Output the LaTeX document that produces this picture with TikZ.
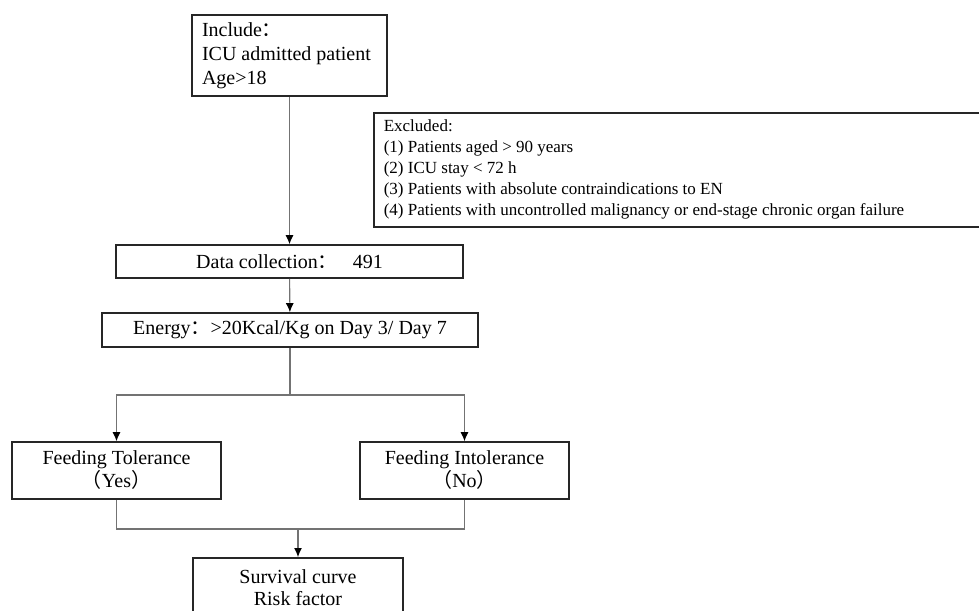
\documentclass[tikz,border=0pt]{standalone}
\usepackage{fontspec}
\setmainfont{Liberation Serif}
\newfontfamily\cjk{Noto Sans CJK SC}
\usepackage{tikz}
\usetikzlibrary{calc, arrows.meta}

\begin{document}
\begin{tikzpicture}[x=1pt, y=-1pt,
        box/.style={draw=black!85, line width=1.6pt, inner sep=0pt, align=center, font=\fontsize{20}{23}\selectfont},
        link/.style={draw=black!55, line width=1.1pt},
        arr/.style={link, -{Latex[length=9pt, width=8pt, color=black]}}]
        \useasboundingbox (0,0) rectangle (979,610);
        \node[box, minimum width=195pt, minimum height=81pt, text width=175pt, align=flush left,
            font=\fontsize{20}{24}\selectfont] (incl) at (289.5,55.5) {Include{\cjk ：}\\ICU admitted patient\\Age>18};
        \node[box, anchor=north west, minimum width=620pt, minimum height=114pt, text width=600pt, align=flush left,
            font=\fontsize{17}{21}\selectfont] (excl) at (373,112) {Excluded:\\(1) Patients aged > 90 years\\(2) ICU stay < 72 h\\(3) Patients with absolute contraindications to EN\\(4) Patients with uncontrolled malignancy or end-stage chronic organ failure};
        \node[box, minimum width=347pt, minimum height=33pt] (data) at (289.5,261.5) {Data collection{\cjk ：}\ \ \ 491};
        \node[box, minimum width=376pt, minimum height=34pt] (energy) at (290,330) {Energy{\cjk ：}>20Kcal/Kg on Day 3/ Day 7};
        \node[box, minimum width=209pt, minimum height=57pt] (tol) at (116.5,470.5) {Feeding Tolerance\\{\cjk （}Yes{\cjk ）}};
        \node[box, minimum width=209pt, minimum height=57pt] (intol) at (464.5,470.5) {Feeding Intolerance\\{\cjk （}No{\cjk ）}};
        \node[box, anchor=north, minimum width=210pt, minimum height=60pt,
            font=\fontsize{20}{22}\selectfont] (surv) at (298,557) {Survival curve\\Risk factor};
        \coordinate (split) at (290,395);
        \coordinate (merge) at (298,529);
        \draw[arr] (incl) -- (data);
        \draw[arr] (data) -- (energy);
        \draw[link] (energy) -- (split);
        \draw[arr] (split) -| (tol);
        \draw[arr] (split) -| (intol);
        \draw[link] (tol) |- (merge) -| (intol);
        \draw[arr] (merge) -- (surv);
\end{tikzpicture}
\end{document}
